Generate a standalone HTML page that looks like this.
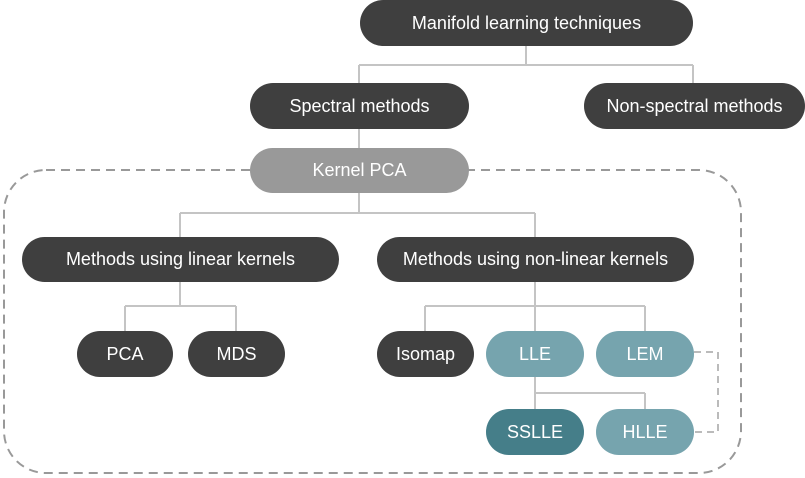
<!DOCTYPE html>
<html><head><meta charset="utf-8"><style>
body{margin:0;width:805px;height:478px;background:#fff;overflow:hidden;position:relative;font-family:"Liberation Sans",sans-serif}
.n{position:absolute;border-radius:23px;color:#fff;display:flex;align-items:center;justify-content:center;font-size:18px;height:46px}
.d{background:#3f3f3f}.g{background:#999}.t{background:#76a4ae}.s{background:#457e89}
svg{position:absolute;left:0;top:0}
</style></head><body>
<svg width="805" height="478">
<g stroke="#c4c4c4" stroke-width="2" fill="none">
<path d="M526 45V65M359 65H693M359 65V83M693 65V83"/>
<path d="M359 129V148"/>
<path d="M359 193V213M180 213H535M180 213V237M535 213V237"/>
<path d="M180 282V306M125 306H236M125 306V331M236 306V331"/>
<path d="M535 282V331M425 306H645M425 306V331M645 306V331"/>
<path d="M535 377V409M535 393H645M645 393V409"/>
</g>
<rect x="4" y="170" width="737" height="303" rx="42" fill="none" stroke="#999" stroke-width="2" stroke-dasharray="9 6"/>
<path d="M694 352H718V432H694" fill="none" stroke="#bbb" stroke-width="2" stroke-dasharray="7 5"/>
</svg>
<div class="n d" style="left:360px;top:0;width:333px">Manifold learning techniques</div>
<div class="n d" style="left:250px;top:83px;width:219px">Spectral methods</div>
<div class="n d" style="left:584px;top:83px;width:221px">Non-spectral methods</div>
<div class="n g" style="left:250px;top:148px;width:219px;height:45px">Kernel PCA</div>
<div class="n d" style="left:22px;top:237px;width:317px;height:45px">Methods using linear kernels</div>
<div class="n d" style="left:377px;top:237px;width:317px;height:45px">Methods using non-linear kernels</div>
<div class="n d" style="left:77px;top:331px;width:96px">PCA</div>
<div class="n d" style="left:188px;top:331px;width:97px">MDS</div>
<div class="n d" style="left:377px;top:331px;width:97px">Isomap</div>
<div class="n t" style="left:486px;top:331px;width:98px">LLE</div>
<div class="n t" style="left:596px;top:331px;width:98px">LEM</div>
<div class="n s" style="left:486px;top:409px;width:98px">SSLLE</div>
<div class="n t" style="left:596px;top:409px;width:98px">HLLE</div>
</body></html>
